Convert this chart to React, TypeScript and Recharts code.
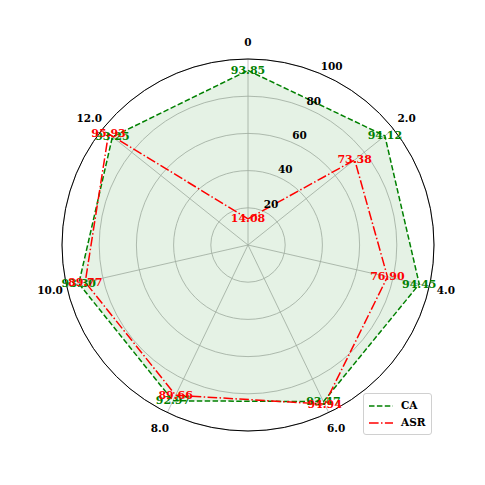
import {
  RadarChart,
  Radar,
  PolarGrid,
  PolarAngleAxis,
  PolarRadiusAxis,
  LabelList,
  Legend
} from 'recharts';

const categories = ['0', '2.0', '4.0', '6.0', '8.0', '10.0', '12.0'];
const caValues = [93.85, 94.12, 94.45, 93.47, 92.97, 93.3, 93.25];
const asrValues = [14.08, 73.38, 76.9, 94.94, 89.66, 89.77, 95.93];
const radiusTicks = [0, 20, 40, 60, 80, 100];

const data = categories.map((name, i) => ({
  name,
  CA: caValues[i],
  ASR: asrValues[i]
}));

const CX = 248;
const CY = 245;
const OUTER = 186;
const FONT = '"DejaVu Serif", serif';

const AngleTick = (props: any) => {
  const { x, y, payload } = props;
  const dx = x - CX;
  const dy = y - CY;
  const len = Math.sqrt(dx * dx + dy * dy) || 1;
  const r = 203;
  return (
    <text
      x={CX + (dx / len) * r}
      y={CY + (dy / len) * r}
      textAnchor="middle"
      dominantBaseline="central"
      fontFamily={FONT}
      fontWeight="bold"
      fontSize={10.5}
      fill="#000"
    >
      {payload.value}
    </text>
  );
};

const RadiusTick = (props: any) => {
  const { x, y, payload } = props;
  if (payload.value === 0) return null;
  return (
    <text
      x={x + 1.5}
      y={y - 7}
      textAnchor="start"
      dominantBaseline="central"
      fontFamily={FONT}
      fontWeight="bold"
      fontSize={10.5}
      fill="#000"
    >
      {payload.value}
    </text>
  );
};

const valueLabel = (color: string) => (props: any) => {
  const { x, y, value } = props;
  return (
    <text
      x={x}
      y={y}
      textAnchor="middle"
      dominantBaseline="central"
      fontFamily={FONT}
      fontWeight="bold"
      fontSize={11}
      fill={color}
    >
      {Number(value).toFixed(2)}
    </text>
  );
};

const LegendBox = () => (
  <div
    style={{
      border: '1px solid #d0d0d0',
      borderRadius: 3,
      background: '#fff',
      padding: '3px 6px 3px 5px',
      fontFamily: FONT,
      fontWeight: 'bold',
      fontSize: 10.5,
      lineHeight: '17px'
    }}
  >
    <div style={{ display: 'flex', alignItems: 'center' }}>
      <svg width={24} height={10} style={{ marginRight: 8 }}>
        <line x1={0} y1={5} x2={24} y2={5} stroke="#008000" strokeWidth={1.5} strokeDasharray="5.5 2.4" />
      </svg>
      CA
    </div>
    <div style={{ display: 'flex', alignItems: 'center' }}>
      <svg width={24} height={10} style={{ marginRight: 8 }}>
        <line x1={0} y1={5} x2={24} y2={5} stroke="#ff0000" strokeWidth={1.5} strokeDasharray="9.6 2.4 1.5 2.4" />
      </svg>
      ASR
    </div>
  </div>
);

export default function App() {
  return (
    <div style={{ position: 'absolute', left: 0, top: 0, background: '#fff' }}>
      <RadarChart
        width={485}
        height={485}
        data={data}
        cx={CX}
        cy={CY}
        outerRadius={OUTER}
        startAngle={90}
        endAngle={-270}
      >
        <PolarGrid gridType="circle" stroke="#b0b0b0" strokeWidth={0.8} />
        <PolarAngleAxis
          dataKey="name"
          tick={<AngleTick />}
          tickLine={false}
          axisLineType="circle"
          axisLine={{ stroke: '#000', strokeWidth: 1 }}
        />
        <PolarRadiusAxis
          angle={67.5}
          domain={[0, 100]}
          ticks={radiusTicks}
          tick={<RadiusTick />}
          axisLine={false}
          tickLine={false}
        />
        <Radar
          name="CA"
          dataKey="CA"
          stroke="#008000"
          strokeWidth={1.5}
          strokeDasharray="5.5 2.4"
          fill="#008000"
          fillOpacity={0.1}
          isAnimationActive={false}
        >
          <LabelList dataKey="CA" content={valueLabel('#008000')} />
        </Radar>
        <Radar
          name="ASR"
          dataKey="ASR"
          stroke="#ff0000"
          strokeWidth={1.5}
          strokeDasharray="9.6 2.4 1.5 2.4"
          fill="none"
          fillOpacity={0}
          isAnimationActive={false}
        >
          <LabelList dataKey="ASR" content={valueLabel('#ff0000')} />
        </Radar>
        <Legend
          content={<LegendBox />}
          wrapperStyle={{ left: 363, top: 393, width: 'auto' }}
        />
      </RadarChart>
    </div>
  );
}
